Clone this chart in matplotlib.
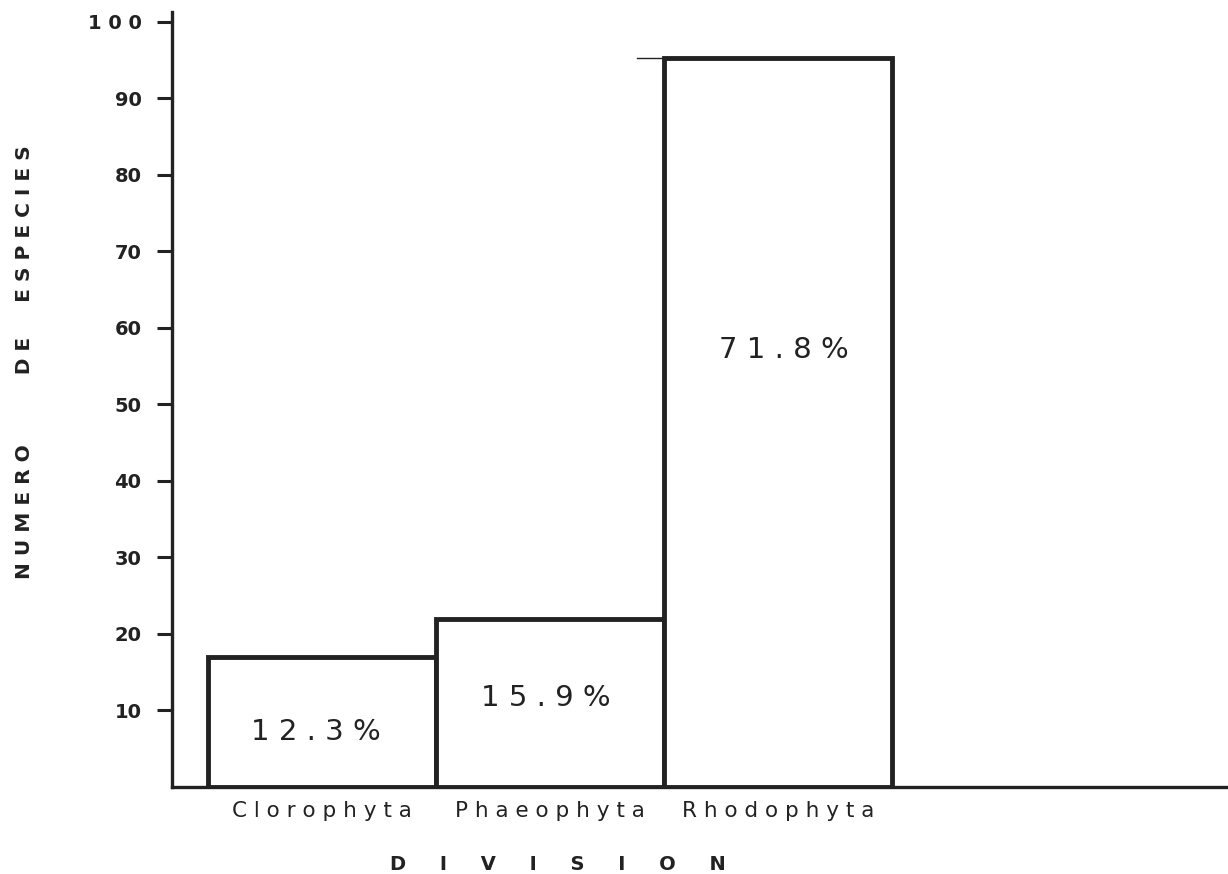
import matplotlib
matplotlib.use("Agg")
import matplotlib.pyplot as plt

# ---- data ----
divisions = ["Clorophyta", "Phaeophyta", "Rhodophyta"]
species_counts = [17, 22, 95.3]
percent_labels = ["12.3 %", "15.9 %", "7 1.8 %"]
y_ticks = [10, 20, 30, 40, 50, 60, 70, 80, 90, 100]
x_title = "DIVISION"
y_title = ["NUMERO", "DE", "ESPECIES"]

INK = "#222222"


def spaced(s, gap=" "):
    return gap.join(c for c in s if c != " ")


fig = plt.figure(figsize=(12.28, 8.74), dpi=100)
W, H = 1228, 874
ax = fig.add_axes([172 / W, (H - 787) / H, (W - 172) / W, (787 - 12) / H])

pos = list(range(len(divisions)))
ax.bar(pos, species_counts, width=1.0, facecolor="white", edgecolor=INK,
       linewidth=3.5, zorder=3)

# thin stray line at left of tallest bar top (as in reference)
ax.plot([1.38, 1.5], [species_counts[2], species_counts[2]], color=INK, lw=1.0, zorder=2)

ax.set_xlim(-0.658, 3.974)
ax.set_ylim(0, 101.3)

for s in ["top", "right"]:
    ax.spines[s].set_visible(False)
for s in ["left", "bottom"]:
    ax.spines[s].set_linewidth(2.4)
    ax.spines[s].set_color(INK)

ax.set_yticks(y_ticks)
ax.set_yticklabels([spaced(str(v)) if v == 100 else str(v) for v in y_ticks],
                   fontsize=14, fontweight="bold", color=INK)
ax.tick_params(axis="y", direction="out", length=11, width=2.2, color=INK, pad=11)

ax.set_xticks(pos)
ax.set_xticklabels([spaced(d) for d in divisions], fontsize=15.5, color=INK,
                   fontweight="medium")
ax.tick_params(axis="x", length=0, pad=10)

text_pos = [(-0.026, 7.2), (0.982, 11.6), (2.026, 57.1)]
for (x, y), lab in zip(text_pos, percent_labels):
    ax.text(x, y, spaced(lab), ha="center", va="center", fontsize=21, color=INK,
            fontweight="medium", zorder=4)

fig.text(558 / W, 1 - 864 / H, spaced(x_title, " " * 5), ha="center",
         va="center", fontsize=14, fontweight="bold", color=INK)
ylab = (" " * 10).join([spaced(y_title[0]), spaced(y_title[1])]) + " " * 5 + spaced(y_title[2])
fig.text(25 / W, 1 - 362 / H, ylab,
         ha="center", va="center", rotation=90, fontsize=14.5, fontweight="bold",
         color=INK)

fig.savefig("out.png", dpi=100)
